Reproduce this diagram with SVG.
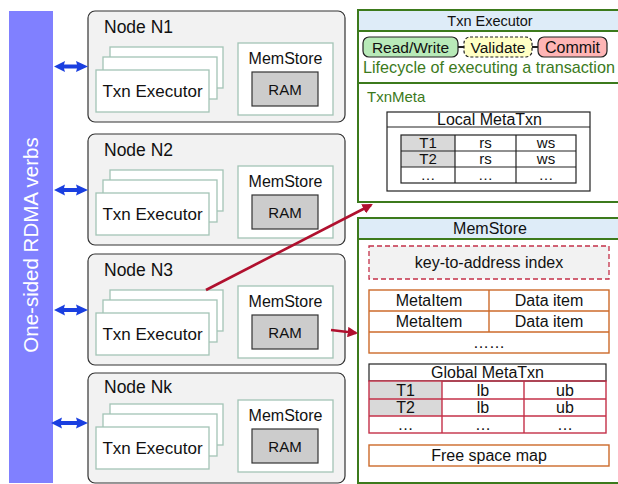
<svg xmlns="http://www.w3.org/2000/svg" width="618" height="484" viewBox="0 0 618 484">
<defs>
<style>
text{font-family:"Liberation Sans",Arial,Helvetica,sans-serif;fill:#111}
.node{fill:#f2f2f2;stroke:#333;stroke-width:1.2}
.stk{fill:#fff;stroke:#a3c4b6;stroke-width:1.3}
.ttl{font-size:17.5px}
.tx{font-size:17px;text-anchor:middle}
.ms{font-size:16px;text-anchor:middle}
.ram{fill:#cccccc;stroke:#333;stroke-width:1.2}
.ramt{font-size:15px;text-anchor:middle}
.dbl{fill:#1a3fe0}
.red{stroke:#b0102e;stroke-width:2.6;fill:none}
.g{fill:none;stroke:#3c7a1c;stroke-width:2}
.hdr{fill:#deecf8}
.c{text-anchor:middle}
.f16{font-size:16px}
.f15{font-size:15px}
.blk{fill:#fff;stroke:#222;stroke-width:1.2}
.org{fill:#fff;stroke:#cc6a2a;stroke-width:1.4}
.gray{fill:#d9d9d9}
</style>
<marker id="ah" viewBox="0 0 10 10" refX="8" refY="5" markerWidth="4" markerHeight="4" orient="auto">
<path d="M0,0 L10,5 L0,10 z" fill="#b0102e"/>
</marker>
</defs>

<g id="rdma-bar">
<rect x="9" y="11" width="44" height="472" fill="#8080ff"/>
<text transform="translate(38,245) rotate(-90)" text-anchor="middle" font-size="20.5" style="fill:#fff">One-sided RDMA verbs</text>
</g>

<g id="node-n1" transform="translate(0,11)">
<rect class="node" x="88" y="0" width="257" height="111" rx="7"/>
<text class="ttl" x="104" y="22">Node N1</text>
<rect class="stk" x="110" y="36" width="113" height="41"/>
<rect class="stk" x="103" y="46" width="114" height="42"/>
<rect class="stk" x="96" y="59" width="113" height="42"/>
<text class="tx" x="152.5" y="86">Txn Executor</text>
<rect class="stk" x="238" y="32" width="95" height="72"/>
<text class="ms" x="285.5" y="53">MemStore</text>
<rect class="ram" x="252" y="61" width="66" height="34"/>
<text class="ramt" x="285" y="84">RAM</text>
</g>

<g id="node-n2" transform="translate(0,134)">
<rect class="node" x="88" y="0" width="257" height="111" rx="7"/>
<text class="ttl" x="104" y="22">Node N2</text>
<rect class="stk" x="110" y="36" width="113" height="41"/>
<rect class="stk" x="103" y="46" width="114" height="42"/>
<rect class="stk" x="96" y="59" width="113" height="42"/>
<text class="tx" x="152.5" y="86">Txn Executor</text>
<rect class="stk" x="238" y="32" width="95" height="72"/>
<text class="ms" x="285.5" y="53">MemStore</text>
<rect class="ram" x="252" y="61" width="66" height="34"/>
<text class="ramt" x="285" y="84">RAM</text>
</g>

<g id="node-n3" transform="translate(0,254)">
<rect class="node" x="88" y="0" width="257" height="111" rx="7"/>
<text class="ttl" x="104" y="22">Node N3</text>
<rect class="stk" x="110" y="36" width="113" height="41"/>
<rect class="stk" x="103" y="46" width="114" height="42"/>
<rect class="stk" x="96" y="59" width="113" height="42"/>
<text class="tx" x="152.5" y="86">Txn Executor</text>
<rect class="stk" x="238" y="32" width="95" height="72"/>
<text class="ms" x="285.5" y="53">MemStore</text>
<rect class="ram" x="252" y="61" width="66" height="34"/>
<text class="ramt" x="285" y="84">RAM</text>
</g>

<g id="node-nk">
<rect class="node" x="88" y="373" width="257" height="110" rx="7"/>
<text class="ttl" x="104" y="393">Node Nk</text>
<g transform="translate(0,368)">
<rect class="stk" x="110" y="36" width="113" height="41"/>
<rect class="stk" x="103" y="46" width="114" height="42"/>
<rect class="stk" x="96" y="59" width="113" height="42"/>
<text class="tx" x="152.5" y="86">Txn Executor</text>
<rect class="stk" x="238" y="32" width="95" height="72"/>
<text class="ms" x="285.5" y="53">MemStore</text>
<rect class="ram" x="252" y="61" width="66" height="34"/>
<text class="ramt" x="285" y="84">RAM</text>
</g>
</g>

<g id="txn-executor-panel">
<rect class="hdr" x="358" y="10" width="262" height="21"/>
<rect class="g" x="358" y="10" width="264" height="192"/>
<line class="g" x1="358" y1="31" x2="620" y2="31"/>
<line class="g" x1="358" y1="83" x2="620" y2="83"/>
<text class="c" x="490" y="26" font-size="14.5">Txn Executor</text>
<line x1="458" y1="47" x2="464" y2="47" stroke="#222" stroke-width="2"/>
<line x1="532" y1="47" x2="538" y2="47" stroke="#222" stroke-width="2"/>
<rect x="363" y="37" width="95" height="20" rx="6" fill="#b8eab8" stroke="#222" stroke-width="1.2"/>
<text class="c" x="410.5" y="53" font-size="15.5">Read/Write</text>
<rect x="464" y="37" width="68" height="20" rx="6" fill="#ffffc4" stroke="#222" stroke-width="1.2" stroke-dasharray="3,2"/>
<text class="c" x="498" y="53" font-size="15.5">Validate</text>
<rect x="538" y="37" width="69" height="20" rx="6" fill="#ffb5b5" stroke="#222" stroke-width="1.2"/>
<text class="c" x="572.5" y="53" font-size="16">Commit</text>
<text x="363" y="73" font-size="16.2" style="fill:#3c7a1c">Lifecycle of executing a transaction</text>
<text x="367" y="102" font-size="15" style="fill:#3c7a1c">TxnMeta</text>
<rect class="blk" x="387" y="112" width="203" height="79"/>
<line x1="387" y1="127" x2="590" y2="127" stroke="#222" stroke-width="1.2"/>
<text class="c f16" x="489.5" y="125">Local MetaTxn</text>
<rect class="gray" x="401" y="135" width="54" height="32"/>
<rect x="401" y="135" width="175" height="48" fill="none" stroke="#222" stroke-width="1.2"/>
<line x1="455" y1="135" x2="455" y2="183" stroke="#222" stroke-width="1.2"/>
<line x1="516" y1="135" x2="516" y2="183" stroke="#222" stroke-width="1.2"/>
<line x1="401" y1="151" x2="576" y2="151" stroke="#222" stroke-width="1.2"/>
<line x1="401" y1="167" x2="576" y2="167" stroke="#222" stroke-width="1.2"/>
<text class="c f15" x="428" y="148">T1</text>
<text class="c f15" x="485.5" y="148">rs</text>
<text class="c f15" x="546" y="148">ws</text>
<text class="c f15" x="428" y="164">T2</text>
<text class="c f15" x="485.5" y="164">rs</text>
<text class="c f15" x="546" y="164">ws</text>
<text class="c f15" x="428" y="180">…</text>
<text class="c f15" x="485.5" y="180">…</text>
<text class="c f15" x="546" y="180">…</text>
</g>

<g id="memstore-panel">
<rect class="hdr" x="358" y="218" width="262" height="21"/>
<rect class="g" x="358" y="218" width="264" height="265"/>
<line class="g" x1="358" y1="239" x2="620" y2="239"/>
<text class="c f16" x="490" y="234">MemStore</text>
<rect x="369" y="246" width="240" height="33" fill="#f2f2f2" stroke="#c43048" stroke-width="1.3" stroke-dasharray="5,3"/>
<text class="c f16" x="489" y="268">key-to-address index</text>
<rect class="org" x="369" y="290" width="240" height="63"/>
<line x1="369" y1="311" x2="609" y2="311" stroke="#cc6a2a" stroke-width="1.4"/>
<line x1="369" y1="332" x2="609" y2="332" stroke="#cc6a2a" stroke-width="1.4"/>
<line x1="489" y1="290" x2="489" y2="332" stroke="#cc6a2a" stroke-width="1.4"/>
<text class="c f16" x="429" y="306">MetaItem</text>
<text class="c f16" x="549" y="306">Data item</text>
<text class="c f16" x="429" y="327">MetaItem</text>
<text class="c f16" x="549" y="327">Data item</text>
<text class="c f16" x="489" y="348">……</text>
<rect class="blk" x="369" y="364" width="237" height="17"/>
<text class="c f16" x="487.5" y="378">Global MetaTxn</text>
<rect class="gray" x="369" y="381" width="73" height="35"/>
<rect x="369" y="381" width="237" height="52" fill="none" stroke="#c43048" stroke-width="1.4"/>
<line x1="369" y1="399" x2="606" y2="399" stroke="#c43048" stroke-width="1.4"/>
<line x1="369" y1="416" x2="606" y2="416" stroke="#c43048" stroke-width="1.4"/>
<line x1="442" y1="381" x2="442" y2="433" stroke="#c43048" stroke-width="1.4"/>
<line x1="524" y1="381" x2="524" y2="433" stroke="#c43048" stroke-width="1.4"/>
<text class="c f16" x="405.5" y="396">T1</text>
<text class="c f16" x="483" y="396">lb</text>
<text class="c f16" x="565" y="396">ub</text>
<text class="c f16" x="405.5" y="413">T2</text>
<text class="c f16" x="483" y="413">lb</text>
<text class="c f16" x="565" y="413">ub</text>
<text class="c f16" x="405.5" y="430">…</text>
<text class="c f16" x="483" y="430">…</text>
<text class="c f16" x="565" y="430">…</text>
<rect class="org" x="369" y="445" width="240" height="21"/>
<text class="c f16" x="489" y="461">Free space map</text>
</g>

<g id="connectors">
<polygon class="dbl" points="54,66.5 65,61 64,64.5 77,64.5 76,61 88,66.5 76,72 77,68.5 64,68.5 65,72"/>
<polygon class="dbl" points="54,190 65,184.5 64,188 77,188 76,184.5 88,190 76,195.5 77,192 64,192 65,195.5"/>
<polygon class="dbl" points="54,310 65,304.5 64,308 77,308 76,304.5 88,310 76,315.5 77,312 64,312 65,315.5"/>
<polygon class="dbl" points="51,423 62,417.5 61,421 77,421 76,417.5 88,423 76,428.5 77,425 61,425 62,428.5"/>
<line class="red" x1="206" y1="290" x2="371" y2="205" marker-end="url(#ah)"/>
<line class="red" x1="331" y1="330" x2="356" y2="333" marker-end="url(#ah)"/>
</g>
</svg>
